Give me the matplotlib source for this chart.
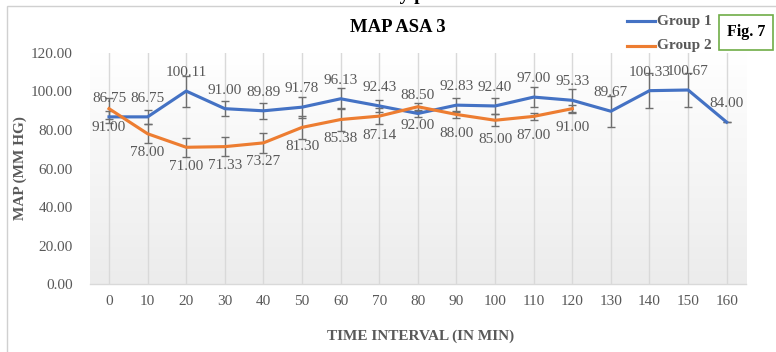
import numpy as np
import matplotlib
matplotlib.use("Agg")
import matplotlib.pyplot as plt
from matplotlib.patches import Rectangle
from matplotlib.lines import Line2D

# ---- data ----
time_labels = ["0", "10", "20", "30", "40", "50", "60", "70", "80", "90",
               "100", "110", "120", "130", "140", "150", "160"]
group1 = [86.75, 86.75, 100.11, 91.00, 89.89, 91.78, 96.13, 92.43, 88.50,
          92.83, 92.40, 97.00, 95.33, 89.67, 100.33, 100.67, 84.00]
group1_err = [3.0, 3.5, 8.0, 4.0, 4.0, 5.5, 5.5, 3.0, 2.0,
              3.5, 4.0, 5.0, 6.0, 8.0, 9.0, 9.0, 0.0]
group2 = [91.00, 78.00, 71.00, 71.33, 73.27, 81.30, 85.38, 87.14, 92.00,
          88.00, 85.00, 87.00, 91.00]
group2_err = [5.5, 5.0, 5.0, 5.0, 5.0, 6.0, 6.0, 4.0, 2.0,
              2.0, 3.0, 2.0, 2.0]
yticks = [0, 20, 40, 60, 80, 100, 120]

W, H = 776, 352
fig = plt.figure(figsize=(W / 100, H / 100), dpi=100)
fig.patch.set_facecolor("white")

SERIF = ["Liberation Serif", "DejaVu Serif"]
GRAY = "#595959"
BLUE = "#4472C4"
ORANGE = "#ED7D31"

def fx(px):
    return px / W

def fy(py):
    return 1 - py / H

# outer frame
fig.patches.append(Rectangle((fx(7), fy(360)), fx(800) - fx(7), fy(6.5) - fy(360),
                             transform=fig.transFigure, fill=False,
                             edgecolor="#d0d0d0", lw=1.0))

# clipped caption above the chart
fig.text(fx(462), fy(0.5), "MAP in the recovery phase", ha="right", va="baseline",
         fontsize=14, fontweight="bold", family=SERIF, color="black")

left, right, top, bottom = 89.7, 746.0, 52.7, 284.3
ax = fig.add_axes([fx(left), fy(bottom), fx(right) - fx(left), fy(top) - fy(bottom)])
ax.set_xlim(-0.5, len(time_labels) - 0.5)
ax.set_ylim(0, 120)

# gradient background
grad = np.linspace(1.0, 0.0, 256).reshape(-1, 1)
from matplotlib.colors import LinearSegmentedColormap
cmap = LinearSegmentedColormap.from_list("g", ["#ececec", "#ffffff"])
ax.imshow(grad, extent=[-0.5, len(time_labels) - 0.5, 0, 120], aspect="auto",
          cmap=cmap, origin="upper", zorder=0)

x1 = np.arange(len(group1))
x2 = np.arange(len(group2))
for xi in x1:
    ax.axvline(xi, color="#d9d9d9", lw=1.0, zorder=1)

for s in ["top", "right", "left"]:
    ax.spines[s].set_visible(False)
ax.spines["bottom"].set_color("#d9d9d9")
ax.spines["bottom"].set_linewidth(1.0)

ax.errorbar(x1, group1, yerr=group1_err, fmt="none", ecolor="#6f6f6f",
            elinewidth=1.0, capsize=3, capthick=1.0, zorder=2)
ax.errorbar(x2, group2, yerr=group2_err, fmt="none", ecolor="#6f6f6f",
            elinewidth=1.0, capsize=3, capthick=1.0, zorder=2)
ax.plot(x1, group1, color=BLUE, lw=2.25, zorder=3, solid_joinstyle="round")
ax.plot(x2, group2, color=ORANGE, lw=2.25, zorder=3, solid_joinstyle="round")

for xi, v in zip(x1, group1):
    ax.annotate(f"{v:.2f}", (xi, v), xytext=(0, 13.3), textcoords="offset points",
                ha="center", va="center", fontsize=11, family=SERIF, color=GRAY,
                zorder=4)
for xi, v in zip(x2, group2):
    ax.annotate(f"{v:.2f}", (xi, v), xytext=(0, -13.6), textcoords="offset points",
                ha="center", va="center", fontsize=11, family=SERIF, color=GRAY,
                zorder=4)

ax.set_xticks(x1)
ax.set_xticklabels(time_labels, family=SERIF, fontsize=11, color=GRAY)
ax.set_yticks(yticks)
ax.set_yticklabels([f"{t:.2f}" for t in yticks], family=SERIF, fontsize=11, color=GRAY)
ax.tick_params(axis="x", length=0, pad=8)
ax.tick_params(axis="y", length=0, pad=12)

# title and axis labels
fig.text(fx(398), fy(27), "MAP ASA 3", ha="center", va="center", fontsize=13.5,
         fontweight="bold", family=SERIF, color="black")
fig.text(fx(20), fy(168.5), "MAP (MM HG)", ha="center", va="center", rotation=90,
         fontsize=11, fontweight="bold", family=SERIF, color=GRAY)
fig.text(fx(421), fy(336), "TIME INTERVAL (IN MIN)", ha="center", va="center",
         fontsize=11, fontweight="bold", family=SERIF, color=GRAY)

# legend (manual)
for yy, col, lab in [(21, BLUE, "Group 1"), (45.5, ORANGE, "Group 2")]:
    fig.lines.append(Line2D([fx(627), fx(655)], [fy(yy), fy(yy)], color=col, lw=2.25,
                            transform=fig.transFigure))
    fig.text(fx(657), fy(yy), lab, ha="left", va="center", fontsize=11,
             fontweight="bold", family=SERIF, color=GRAY)

# Fig. 7 box
fig.patches.append(Rectangle((fx(718.5), fy(49.5)), fx(773) - fx(718.5), fy(15) - fy(49.5),
                             transform=fig.transFigure, fill=True, facecolor="white",
                             edgecolor="#70AD47", lw=1.2))
fig.text(fx(746), fy(32.5), "Fig. 7", ha="center", va="center", fontsize=11.5,
         fontweight="bold", family=SERIF, color="black")

fig.savefig("out.png", dpi=100)
